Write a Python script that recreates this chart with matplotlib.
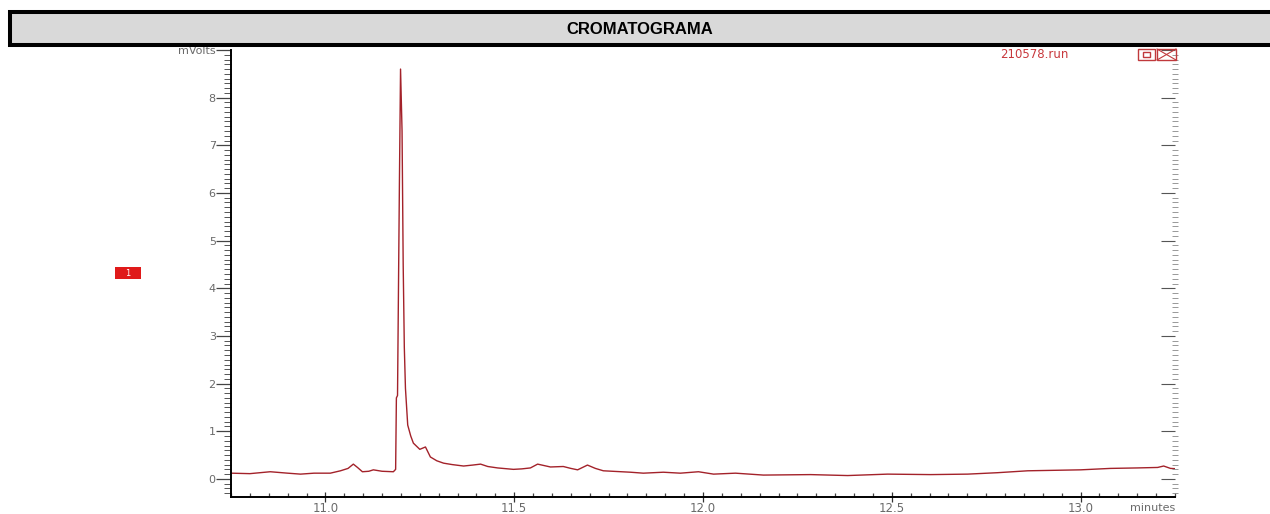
import matplotlib.pyplot as plt
from matplotlib.lines import Line2D
from matplotlib.patches import Rectangle
from matplotlib.ticker import MultipleLocator

# chromatogram trace (minutes, mVolts)
time_min = [
    10.750, 10.800, 10.854, 10.900, 10.934, 10.970, 11.013, 11.040, 11.060, 11.074,
    11.085, 11.098, 11.115, 11.127, 11.150, 11.180, 11.186, 11.188, 11.191, 11.196,
    11.199, 11.203, 11.206, 11.209, 11.212, 11.218, 11.226, 11.233, 11.250, 11.265,
    11.278, 11.295, 11.313, 11.336, 11.366, 11.390, 11.411, 11.430, 11.456, 11.498,
    11.520, 11.543, 11.562, 11.596, 11.630, 11.650, 11.668, 11.694, 11.715, 11.736,
    11.808, 11.842, 11.895, 11.940, 11.988, 12.028, 12.086, 12.160, 12.285, 12.383,
    12.489, 12.603, 12.701, 12.780, 12.860, 13.000, 13.079, 13.150, 13.204, 13.220,
    13.238, 13.260,
]
signal_mv = [
    0.12, 0.11, 0.15, 0.12, 0.10, 0.12, 0.12, 0.17, 0.22, 0.31,
    0.24, 0.15, 0.16, 0.19, 0.16, 0.15, 0.20, 1.70, 1.75, 6.20,
    8.60, 7.30, 4.50, 2.76, 1.90, 1.13, 0.90, 0.75, 0.62, 0.67,
    0.46, 0.38, 0.33, 0.30, 0.27, 0.29, 0.31, 0.26, 0.23, 0.20,
    0.21, 0.23, 0.31, 0.25, 0.26, 0.22, 0.19, 0.29, 0.22, 0.17,
    0.14, 0.12, 0.14, 0.12, 0.15, 0.10, 0.12, 0.08, 0.09, 0.07,
    0.10, 0.09, 0.10, 0.13, 0.17, 0.19, 0.22, 0.23, 0.24, 0.27,
    0.22, 0.21,
]

y_ticks = [0, 1, 2, 3, 4, 5, 6, 7, 8, 9]
y_tick_labels = ["0", "1", "2", "3", "4", "5", "6", "7", "8", "mVolts"]
x_ticks = [11.0, 11.5, 12.0, 12.5, 13.0]
x_tick_labels = ["11.0", "11.5", "12.0", "12.5", "13.0"]

W, H = 1270, 514
TRACE = "#a3222a"
LABEL_GRAY = "#6a6a6a"


def fx(px):
    return px / W


def fy(py):
    return 1 - py / H


fig = plt.figure(figsize=(W / 100, H / 100), dpi=100)

# header bar
fig.add_artist(Rectangle((fx(10), fy(45)), fx(1275) - fx(10), fy(12) - fy(45),
                         transform=fig.transFigure, facecolor="#d9d9d9",
                         edgecolor="black", linewidth=2.9))
fig.text(fx(640), fy(29), "CROMATOGRAMA", ha="center", va="center",
         fontsize=12, fontweight="bold",
         family=["Liberation Sans Narrow", "Liberation Sans", "DejaVu Sans"])

ax = fig.add_axes([fx(231), fy(497), fx(1175) - fx(231), fy(50) - fy(497)])
ax.plot(time_min, signal_mv, color=TRACE, linewidth=1.0)
ax.set_xlim(10.75, 13.25)
ax.set_ylim(-0.38, 9.0)

for side in ("top", "right"):
    ax.spines[side].set_visible(False)
ax.spines["left"].set_linewidth(1.4)
ax.spines["bottom"].set_linewidth(1.4)

ax.set_yticks(y_ticks)
ax.set_yticklabels(y_tick_labels)
ax.yaxis.set_minor_locator(MultipleLocator(0.1))
ax.tick_params(axis="y", which="major", direction="out", length=11, width=0.9,
               pad=0, labelsize=8, labelcolor=LABEL_GRAY, color="#444444")
ax.tick_params(axis="y", which="minor", direction="out", length=5, width=0.7,
               color="#555555")

ax.set_xticks(x_ticks)
ax.set_xticklabels(x_tick_labels)
ax.xaxis.set_minor_locator(MultipleLocator(0.05))
ax.tick_params(axis="x", which="major", direction="inout", length=7, width=0.9,
               pad=0, labelsize=8.5, labelcolor=LABEL_GRAY, color="#333333")
ax.tick_params(axis="x", which="minor", direction="in", length=3, width=0.9,
               color="#444444")
fig.text(fx(1175), fy(508), "minutes", ha="right", va="center",
         fontsize=8, color=LABEL_GRAY)

# right-hand tick column
ax_r = ax.twinx()
ax_r.set_ylim(ax.get_ylim())
for side in ax_r.spines:
    ax_r.spines[side].set_visible(False)
ax_r.set_yticks(y_ticks)
ax_r.set_yticklabels([])
ax_r.yaxis.set_minor_locator(MultipleLocator(0.1))
ax_r.tick_params(axis="y", which="major", direction="in", length=10, width=0.8,
                 color="#555555")
ax_r.tick_params(axis="y", which="minor", direction="inout", length=4, width=0.6,
                 color="#888888")

# run name and window buttons
fig.text(fx(1000), fy(55), "210578.run", ha="left", va="center",
         fontsize=8.5, color="#c8383c")
fig.add_artist(Rectangle((fx(1138), fy(60)), fx(17), fy(49) - fy(60),
                         transform=fig.transFigure, facecolor="none",
                         edgecolor="#c0393c", linewidth=1.0))
fig.add_artist(Rectangle((fx(1143), fy(57)), fx(7), fy(52) - fy(57),
                         transform=fig.transFigure, facecolor="none",
                         edgecolor="#c0393c", linewidth=1.0))
fig.add_artist(Rectangle((fx(1157), fy(60)), fx(19), fy(49) - fy(60),
                         transform=fig.transFigure, facecolor="none",
                         edgecolor="#c0393c", linewidth=1.0))
fig.add_artist(Line2D([fx(1157), fx(1176)], [fy(49), fy(60)],
                      transform=fig.transFigure, color="#c0393c", linewidth=0.8))
fig.add_artist(Line2D([fx(1157), fx(1176)], [fy(60), fy(49)],
                      transform=fig.transFigure, color="#c0393c", linewidth=0.8))

# peak marker
fig.add_artist(Rectangle((fx(115), fy(279)), fx(26), fy(267) - fy(279),
                         transform=fig.transFigure, facecolor="#e01a1a",
                         edgecolor="none"))
fig.text(fx(128), fy(273), "1", ha="center", va="center", fontsize=6,
         color="white")

fig.savefig("out.png", dpi=100)
